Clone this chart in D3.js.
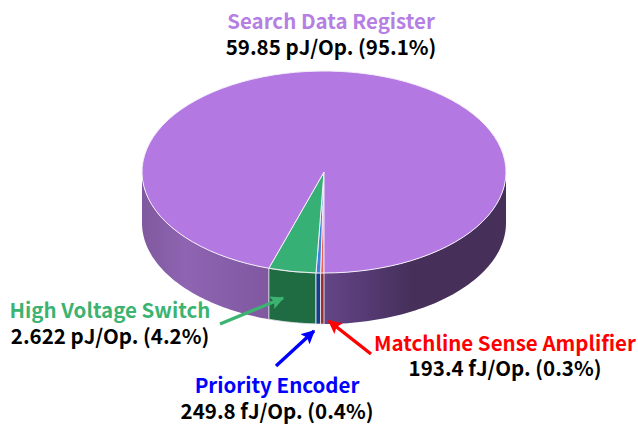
<!DOCTYPE html>
<html>
<head>
<meta charset="utf-8">
<script src="https://cdn.jsdelivr.net/npm/d3@7"></script>
<style>
html,body{margin:0;padding:0;background:#fff}
text{font-family:"Noto Sans CJK KR","Noto Sans",sans-serif;font-weight:700;text-anchor:middle}
</style>
</head>
<body>
<svg id="chart" width="638" height="425"></svg>
<script>
// Energy breakdown per operation
const blocks = ["Matchline Sense Amplifier", "Priority Encoder", "High Voltage Switch", "Search Data Register"];
const shares = [0.3, 0.4, 4.2, 95.1];
const energies = ["193.4 fJ/Op. (0.3%)", "249.8 fJ/Op. (0.4%)", "2.622 pJ/Op. (4.2%)", "59.85 pJ/Op. (95.1%)"];
const topColors = ["#f0605a", "#3f7fe0", "#36b074", "#b378e2"];
const sideColors = ["#8e2f2c", "#123f8a", "#1f6b42", null];
const labelColors = ["#ff0000", "#0000ff", "#3cb371", "#b57fe3"];
const labelAnchors = [[505, 351], [277, 393], [110, 318], [331, 29]];
const valueOffset = [25, 26, 26, 26];
const arrowEnds = [
  [[371, 354], [329, 321]],
  [[276, 366], [314, 331]],
  [[220, 324], [283, 298]]
];

const cx = 324, cy = 172, rx = 182, ry = 101, depth = 51;
const svg = d3.select("#chart");
const defs = svg.append("defs");

// Shaded wall of the disc, lit from the front left
const grad = defs.append("linearGradient").attr("id", "wall")
  .attr("gradientUnits", "userSpaceOnUse")
  .attr("x1", cx - rx).attr("x2", cx + rx).attr("y1", 0).attr("y2", 0);
[[0, "#7f599e"], [0.12, "#8f64b2"], [0.35, "#7f58a0"], [0.5, "#644686"], [0.62, "#553a73"], [0.74, "#46305a"], [1, "#46305a"]]
  .forEach(([o, c]) => grad.append("stop").attr("offset", o).attr("stop-color", c));

[["#3cb371", "ga"], ["#0000ff", "gb"], ["#ff0000", "gc"]].forEach(([c, id]) => {
  defs.append("marker").attr("id", id).attr("viewBox", "0 0 10 10")
    .attr("refX", 9).attr("refY", 5).attr("markerWidth", 4).attr("markerHeight", 4)
    .attr("orient", "auto")
    .append("path").attr("d", "M0,0L10,5L0,10L2,5Z").attr("fill", c);
});

// Slices run clockwise from the front of the disc
const pie = d3.pie().sort(null).startAngle(Math.PI).endAngle(3 * Math.PI).value(d => d);
const arcs = pie(shares);
const sy = ry / rx;
const px = a => cx + rx * Math.sin(a);
const py = a => cy - ry * Math.cos(a);

function wallPath(a0, a1) {
  const from = Math.max(a0, Math.PI / 2), to = Math.min(a1, 3 * Math.PI / 2);
  const pts = d3.range(0, 61).map(i => from + (to - from) * i / 60);
  const line = d3.line().x(a => px(a));
  const top = line.y(a => py(a))(pts);
  const bottom = line.y(a => py(a) + depth)(pts.slice().reverse());
  return top + "L" + bottom.slice(1) + "Z";
}

// Side walls: only the part of each slice facing the viewer
const walls = [];
arcs.forEach((d, i) => {
  if (i < 3) walls.push({a0: d.startAngle, a1: d.endAngle, fill: sideColors[i], edge: "#e9e2ef"});
  else {
    walls.push({a0: d.startAngle, a1: 1.5 * Math.PI, fill: "url(#wall)", edge: "none"});
    walls.push({a0: Math.PI / 2, a1: Math.PI, fill: "url(#wall)", edge: "none"});
  }
});
const wallLayer = svg.append("g");
wallLayer.selectAll("path").data(walls.slice().reverse()).join("path")
  .attr("d", d => wallPath(d.a0, d.a1))
  .attr("fill", d => d.fill)
  .attr("stroke", d => d.edge).attr("stroke-width", 0.9);

// Top face, flattened from a circular d3 arc
const arcGen = d3.arc().innerRadius(0).outerRadius(rx);
svg.append("g").attr("transform", `translate(${cx},${cy}) scale(1,${sy})`)
  .selectAll("path").data(arcs).join("path")
  .attr("d", arcGen)
  .attr("fill", (d, i) => topColors[i])
  .attr("stroke", "#f4eefa").attr("stroke-width", 1)
  .attr("vector-effect", "non-scaling-stroke");

// Leader arrows
svg.append("g").selectAll("line").data(arrowEnds).join("line")
  .attr("x1", d => d[0][0]).attr("y1", d => d[0][1])
  .attr("x2", d => d[1][0]).attr("y2", d => d[1][1])
  .attr("stroke", (d, i) => labelColors[i])
  .attr("stroke-width", 3.4)
  .attr("marker-end", (d, i) => `url(#${["gc", "gb", "ga"][i]})`);

// Two-line labels: block name over its energy figure
const labels = svg.append("g").selectAll("g").data(blocks).join("g")
  .attr("transform", (d, i) => `translate(${labelAnchors[i][0]},${labelAnchors[i][1]})`);
labels.append("text").attr("font-size", 20.5)
  .attr("fill", (d, i) => labelColors[i]).text(d => d);
labels.append("text").attr("y", (d, i) => valueOffset[i]).attr("font-size", 20.5)
  .attr("fill", "#000").text((d, i) => energies[i]);
</script>
</body>
</html>
